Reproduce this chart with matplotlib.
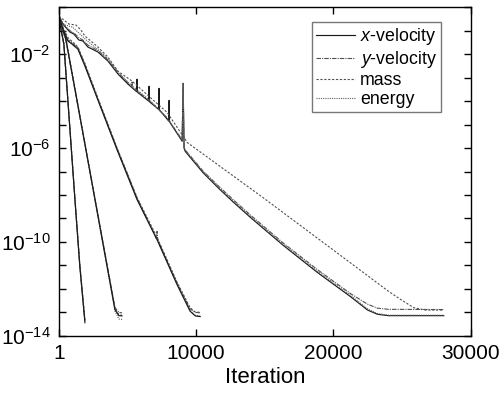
import numpy as np
import matplotlib
matplotlib.use("Agg")
import matplotlib.pyplot as plt
from matplotlib.ticker import FixedLocator, FixedFormatter

plt.rcParams['font.family'] = ['Liberation Sans', 'DejaVu Sans']
plt.rcParams['mathtext.fontset'] = 'custom'
plt.rcParams['mathtext.rm'] = 'Liberation Sans'
plt.rcParams['mathtext.it'] = 'Liberation Sans:italic'

# ---- data: iteration and log10(residual) ----
# group 1 (fastest)
g1_iter = [1, 150, 365, 1170, 1530, 1900]
g1_xvel = [-0.38, -0.93, -1.57, -8.19, -11.05, -13.44]
g1_yvel = [-0.40, -0.95, -1.60, -8.15, -11.00, -13.35]
g1_mass = [-0.36, -0.85, -1.50, -8.10, -10.95, -13.30]
g1_energy = [-0.39, -0.90, -1.55, -8.20, -11.10, -13.40]

# group 2
g2_iter = [1, 150, 290, 510, 4090, 4380, 4600]
g2_xvel = [-0.38, -0.70, -0.93, -1.36, -12.89, -13.14, -13.15]
g2_yvel = [-0.40, -0.75, -1.00, -1.42, -12.80, -13.00, -13.02]
g2_mass = [-0.36, -0.65, -0.85, -1.30, -12.85, -13.10, -13.12]
g2_energy = [-0.39, -0.72, -0.95, -1.38, -12.95, -13.28, -13.30]

# group 3
g3_iter = [1, 290, 660, 950, 1390, 1900, 2770, 4230, 5690, 7150, 8610, 9560, 9930, 10290]
g3_xvel = [-0.38, -0.93, -1.44, -1.57, -1.79, -2.51, -3.84, -6.06, -8.19, -9.90, -11.82, -12.95, -13.15, -13.18]
g3_yvel_iter = [1, 290, 660, 950, 1390, 1900, 2770, 4230, 5690, 7100, 7150, 7200, 8610, 9560, 9930, 10290]
g3_yvel = [-0.40, -0.90, -1.40, -1.52, -1.75, -2.45, -3.80, -6.00, -8.12, -9.85, -9.55, -9.90, -11.75, -12.85, -13.00, -13.02]
g3_mass = [-0.35, -0.85, -1.30, -1.45, -1.70, -2.40, -3.75, -5.98, -8.10, -9.80, -11.72, -12.80, -12.98, -13.00]
g3_energy = [-0.37, -0.88, -1.38, -1.50, -1.72, -2.45, -3.82, -6.04, -8.16, -9.88, -11.80, -12.93, -13.12, -13.15]

# group 4 (slowest, with spikes)
g4_xvel_iter = [1, 290, 800, 1100, 1460, 1750, 2120, 2850, 3580, 4310, 5040, 5660, 5690, 5720,
                6540, 6570, 6600, 7270, 7300, 7330, 8000, 8030, 8060, 8980, 9050, 9120, 9200,
                10500, 11700, 12700, 13940, 16350, 18830, 21240, 22480, 23200, 24000, 28030]
g4_xvel = [-0.38, -0.72, -1.06, -1.15, -1.40, -1.44, -1.70, -1.91, -2.30, -2.85, -3.28, -3.60, -3.07, -3.62,
           -4.00, -3.37, -4.03, -4.35, -3.46, -4.38, -4.85, -3.97, -4.88, -5.71, -3.28, -6.00, -6.14,
           -7.05, -7.75, -8.30, -8.95, -10.15, -11.30, -12.33, -12.90, -13.08, -13.14, -13.14]
g4_yvel_iter = [1, 290, 800, 1100, 1460, 1750, 2120, 2850, 3580, 4310, 5040, 5300, 5330, 5360,
                6640, 7880, 8980, 9050, 9120, 9200, 10500, 11700, 12700, 13940, 16350, 18830,
                21240, 22480, 23200, 24000, 28030]
g4_yvel = [-0.40, -0.70, -1.00, -1.10, -1.30, -1.40, -1.62, -1.85, -2.25, -2.78, -3.22, -3.40, -3.16, -3.42,
           -4.00, -4.72, -5.65, -3.24, -5.95, -6.08, -6.98, -7.66, -8.20, -8.85, -10.05, -11.18,
           -12.20, -12.65, -12.82, -12.87, -12.88]
g4_mass_iter = [1, 730, 1240, 1600, 1900, 2850, 3580, 4310, 5330, 6640, 7880, 9200, 9340,
                14890, 20000, 24000, 24890, 25840, 26700, 28030]
g4_mass = [-0.38, -0.72, -0.76, -0.97, -1.23, -1.70, -2.13, -2.73, -3.15, -3.84, -4.48, -5.63, -5.76,
           -8.12, -10.35, -12.10, -12.45, -12.80, -12.90, -12.90]
g4_energy_iter = [1, 400, 1000, 1460, 1900, 2500, 2850, 3580, 4310, 5040, 6640, 7880, 8980, 9050, 9120,
                  9200, 10500, 11700, 12700, 13940, 16350, 18830, 21240, 22480, 23200, 24000, 28030]
g4_energy = [-0.36, -0.75, -0.85, -1.10, -1.35, -1.65, -1.80, -2.20, -2.78, -3.20, -3.98, -4.70, -5.66, -3.50, -6.00,
             -6.10, -7.00, -7.70, -8.25, -8.90, -10.10, -11.24, -12.27, -12.85, -13.05, -13.12, -13.12]

labels = ['$x$-velocity', '$y$-velocity', 'mass', 'energy']
x_ticks = [1, 10000, 20000, 30000]
x_ticklabels = ['1', '10000', '20000', '30000']
y_major = [1e-2, 1e-6, 1e-10, 1e-14]
y_ticklabels = ['10$^{-2}$', '10$^{-6}$', '10$^{-10}$', '10$^{-14}$']

styles = {
    'xvel': dict(color='#1a1a1a', lw=0.85, ls='-'),
    'yvel': dict(color='#505050', lw=0.8, ls=(0, (4, 1, 1, 1))),
    'mass': dict(color='#505050', lw=0.8, ls=(0, (2, 1.5))),
    'energy': dict(color='#606060', lw=0.8, ls=(0, (1, 1))),
}

fig = plt.figure(figsize=(5.03, 3.97), dpi=100)
ax = fig.add_axes([0.117, 0.154, 0.819, 0.828])

def p(it, lv, key, label=None):
    ax.plot(it, 10.0 ** np.asarray(lv), label=label, **styles[key])

# legend entries first
p(g4_xvel_iter, g4_xvel, 'xvel', labels[0])
p(g4_yvel_iter, g4_yvel, 'yvel', labels[1])
p(g4_mass_iter, g4_mass, 'mass', labels[2])
p(g4_energy_iter, g4_energy, 'energy', labels[3])

for it, xv, yv_it, yv, ms, en in [
    (g1_iter, g1_xvel, g1_iter, g1_yvel, g1_mass, g1_energy),
    (g2_iter, g2_xvel, g2_iter, g2_yvel, g2_mass, g2_energy),
    (g3_iter, g3_xvel, g3_yvel_iter, g3_yvel, g3_mass, g3_energy),
]:
    p(it, ms, 'mass')
    p(it, en, 'energy')
    p(yv_it, yv, 'yvel')
    p(it, xv, 'xvel')

ax.set_yscale('log')
ax.set_xlim(1, 30000)
ax.set_ylim(1e-14, 1e0)
ax.xaxis.set_major_locator(FixedLocator(x_ticks))
ax.xaxis.set_major_formatter(FixedFormatter(x_ticklabels))
ax.yaxis.set_major_locator(FixedLocator(y_major))
ax.yaxis.set_major_formatter(FixedFormatter(y_ticklabels))
ax.yaxis.set_minor_locator(FixedLocator([10.0 ** k for k in range(-14, 1)]))
ax.yaxis.set_minor_formatter(FixedFormatter([''] * 15))
ax.tick_params(which='both', direction='in', top=True, right=True, length=5, width=1, labelsize=15)
ax.tick_params(axis='y', pad=6)
ax.tick_params(axis='x', pad=6)
for s in ax.spines.values():
    s.set_linewidth(1.0)

ax.set_xlabel('Iteration', fontsize=16, labelpad=3)

leg = ax.legend(loc='upper right', bbox_to_anchor=(0.927, 0.954), fontsize=12.8, frameon=True,
                fancybox=False, edgecolor='#777777', framealpha=1, handlelength=2.2,
                handletextpad=0.3, labelspacing=0.12, borderpad=0.2, borderaxespad=0)
leg.get_frame().set_linewidth(1.0)

fig.savefig('out.png', dpi=100)
